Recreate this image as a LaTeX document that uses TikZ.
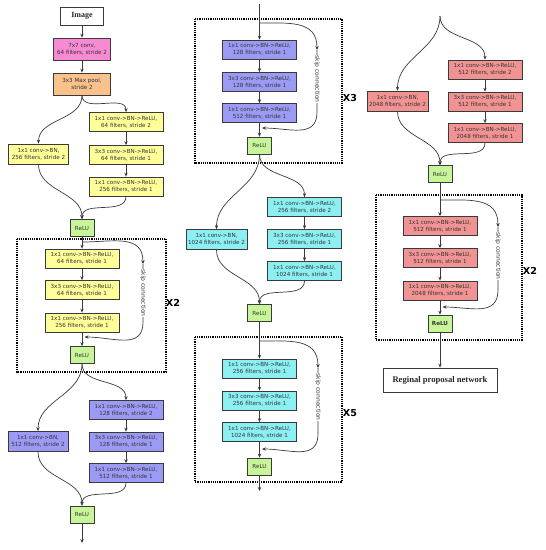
\documentclass[tikz,border=0pt]{standalone}
\usepackage{fontspec}
\setmainfont{DejaVu Sans}
\newfontfamily\serifb{Liberation Serif}
\usetikzlibrary{arrows.meta}
\definecolor{cpink}{HTML}{F78AD2}
\definecolor{corange}{HTML}{F9C18C}
\definecolor{cyel}{HTML}{FFFF99}
\definecolor{cpur}{HTML}{9B9BF5}
\definecolor{ccyan}{HTML}{8CF0F2}
\definecolor{cred}{HTML}{F29393}
\definecolor{cgreen}{HTML}{C8F59A}
\definecolor{cline}{HTML}{3A3A3A}
\begin{document}
\begin{tikzpicture}[x=1pt,y=-1pt,
 blk/.style={draw=cline, line width=0.7pt, inner sep=0pt, align=center,
   font=\fontsize{5.6}{6.8}\selectfont, minimum width=74pt, minimum height=19pt, text=black!80},
 sc/.style={blk, minimum width=60pt, minimum height=20pt},
 relu/.style={blk, fill=cgreen, minimum width=24pt, minimum height=17pt},
 arr/.style={draw=cline, line width=0.7pt, -{Stealth[length=4pt,width=3.4pt]}},
 rep/.style={draw=black, line width=1.2pt, densely dotted},
 skiplbl/.style={font=\fontsize{6}{6}\selectfont, rotate=-90, fill=white, inner sep=0.6pt, text=black!80},
 xlbl/.style={font=\bfseries\fontsize{9.6}{10}\selectfont},
 titl/.style={draw=cline, line width=0.7pt, fill=white, text=black!85, font=\serifb\bfseries\fontsize{8}{9}\selectfont},
 skp/.style={out=0, in=90, looseness=1.2},
 skq/.style={out=-90, in=0, looseness=1.2},
 ]
\useasboundingbox (0,0) rectangle (546,550);

% ---------------- left column ----------------
\node[titl, minimum width=43pt, minimum height=18pt] (img) at (82,16) {Image};
\node[blk, fill=cpink, minimum width=57pt, minimum height=22pt] (conv7) at (82,49) {7x7 conv,\\64 filters, stride 2};
\node[blk, fill=corange, minimum width=57pt, minimum height=22pt] (pool) at (82,84) {3x3 Max pool,\\stride 2};
\node[blk, fill=cyel] (a1) at (126,122) {1x1 conv->BN->ReLU,\\64 filters, stride 2};
\node[blk, fill=cyel] (a2) at (126,155) {3x3 conv->BN->ReLU,\\64 filters, stride 1};
\node[blk, fill=cyel] (a3) at (126,186.5) {1x1 conv->BN->ReLU,\\256 filters, stride 1};
\node[sc, fill=cyel] (as) at (38.5,154) {1x1 conv->BN,\\256 filters, stride 2};
\node[relu] (ar) at (82,228) {ReLU};

\draw[arr] (img) -- (conv7);
\draw[arr] (conv7) -- (pool);
\draw[arr] (pool.south) to[out=-90,in=90] (as.north);
\draw[arr] (pool.south) to[out=-90,in=90] (a1.north);
\draw[arr] (a1) -- (a2);
\draw[arr] (a2) -- (a3);
\draw[arr] (as.south) to[out=-90,in=90] (ar.north);
\draw[arr] (a3.south) to[out=-90,in=90] (ar.north);

\draw[rep] (17,239) rectangle (166,372);
\node[blk, fill=cyel] (b1) at (82,258.5) {1x1 conv->BN->ReLU,\\64 filters, stride 1};
\node[blk, fill=cyel] (b2) at (82,290) {3x3 conv->BN->ReLU,\\64 filters, stride 1};
\node[blk, fill=cyel] (b3) at (82,322.5) {1x1 conv->BN->ReLU,\\256 filters, stride 1};
\node[relu] (br) at (82,355) {ReLU};
\draw[arr] (ar) -- (b1);
\draw[arr] (b1) -- (b2);
\draw[arr] (b2) -- (b3);
\draw[arr] (b3) -- (br);
\coordinate (bs0) at (82,242);
\coordinate (bs1) at (143,264);
\coordinate (bs2) at (143,322);
\coordinate (bs3) at (84.5,337);
\draw[arr] (bs0) to[skp] (bs1);
\draw[arr] (bs1) -- (bs2) to[skq] (bs3);
\node[skiplbl] (bsl) at (143,293) {skip connection};
\node[xlbl] (x2a) at (173,303) {X2};

\node[blk, fill=cpur] (c1) at (126,410) {1x1 conv->BN->ReLU,\\128 filters, stride 2};
\node[blk, fill=cpur] (c2) at (126,441.5) {3x3 conv->BN->ReLU,\\128 filters, stride 1};
\node[blk, fill=cpur] (c3) at (126,473) {1x1 conv->BN->ReLU,\\512 filters, stride 1};
\node[sc, fill=cpur] (cs) at (38,441.5) {1x1 conv->BN,\\512 filters, stride 2};
\node[relu] (cr) at (82,514.5) {ReLU};
\coordinate (cout) at (82,543);
\draw[arr] (br.south) to[out=-90,in=90] (cs.north);
\draw[arr] (br.south) to[out=-90,in=90] (c1.north);
\draw[arr] (c1) -- (c2);
\draw[arr] (c2) -- (c3);
\draw[arr] (cs.south) to[out=-90,in=90] (cr.north);
\draw[arr] (c3.south) to[out=-90,in=90] (cr.north);
\draw[arr] (cr) -- (cout);

% ---------------- middle column ----------------
\coordinate (min) at (259.5,4);
\draw[rep] (195,19) rectangle (342,163);
\node[blk, fill=cpur] (d1) at (259.5,49.5) {1x1 conv->BN->ReLU,\\128 filters, stride 1};
\node[blk, fill=cpur] (d2) at (259.5,82) {3x3 conv->BN->ReLU,\\128 filters, stride 1};
\node[blk, fill=cpur] (d3) at (259.5,113) {1x1 conv->BN->ReLU,\\512 filters, stride 1};
\node[relu] (dr) at (259.5,145.5) {ReLU};
\draw[arr] (min) -- (d1);
\draw[arr] (d1) -- (d2);
\draw[arr] (d2) -- (d3);
\draw[arr] (d3) -- (dr);
\coordinate (ds0) at (259.5,23);
\coordinate (ds1) at (317,50);
\coordinate (ds2) at (317,112);
\coordinate (ds3) at (262,128);
\draw[arr] (ds0) to[skp] (ds1);
\draw[arr] (ds1) -- (ds2) to[skq] (ds3);
\node[skiplbl] (dsl) at (317,79) {skip connection};
\node[xlbl] (x3) at (350,98) {X3};

\node[blk, fill=ccyan] (e1) at (304.5,207) {1x1 conv->BN->ReLU,\\256 filters, stride 2};
\node[blk, fill=ccyan] (e2) at (304.5,239) {3x3 conv->BN->ReLU,\\256 filters, stride 1};
\node[blk, fill=ccyan] (e3) at (304.5,271) {1x1 conv->BN->ReLU,\\1024 filters, stride 1};
\node[sc, fill=ccyan, minimum width=61pt] (es) at (216.5,239.5) {1x1 conv->BN,\\1024 filters, stride 2};
\node[relu] (er) at (259.5,313) {ReLU};
\draw[arr] (dr.south) to[out=-90,in=90] (es.north);
\draw[arr] (dr.south) to[out=-90,in=90] (e1.north);
\draw[arr] (e1) -- (e2);
\draw[arr] (e2) -- (e3);
\draw[arr] (es.south) to[out=-90,in=90] (er.north);
\draw[arr] (e3.south) to[out=-90,in=90] (er.north);

\draw[rep] (195,337) rectangle (342,482);
\node[blk, fill=ccyan] (f1) at (259.5,368.5) {1x1 conv->BN->ReLU,\\256 filters, stride 1};
\node[blk, fill=ccyan] (f2) at (259.5,400.5) {3x3 conv->BN->ReLU,\\256 filters, stride 1};
\node[blk, fill=ccyan] (f3) at (259.5,432) {1x1 conv->BN->ReLU,\\1024 filters, stride 1};
\node[relu] (fr) at (259.5,466.5) {ReLU};
\coordinate (fout) at (259.5,491);
\draw[arr] (er) -- (f1);
\draw[arr] (f1) -- (f2);
\draw[arr] (f2) -- (f3);
\draw[arr] (f3) -- (fr);
\draw[arr] (fr) -- (fout);
\coordinate (fs0) at (259.5,341);
\coordinate (fs1) at (318,368);
\coordinate (fs2) at (318,434);
\coordinate (fs3) at (262,449);
\draw[arr] (fs0) to[skp] (fs1);
\draw[arr] (fs1) -- (fs2) to[skq] (fs3);
\node[skiplbl] (fsl) at (318,397) {skip connection};
\node[xlbl] (x5) at (350,413) {X5};

% ---------------- right column ----------------
\coordinate (gin) at (440,16);
\node[blk, fill=cred] (g1) at (485,69.5) {1x1 conv->BN->ReLU,\\512 filters, stride 2};
\node[blk, fill=cred] (g2) at (485,101.5) {3x3 conv->BN->ReLU,\\512 filters, stride 1};
\node[blk, fill=cred] (g3) at (485,133) {1x1 conv->BN->ReLU,\\2048 filters, stride 1};
\node[sc, fill=cred, minimum width=61pt] (gs) at (397.5,101) {1x1 conv->BN,\\2048 filters, stride 2};
\node[relu] (gr) at (440,174) {ReLU};
\draw[arr] (gin) to[out=-90,in=90] (gs.north);
\draw[arr] (gin) to[out=-90,in=90] (g1.north);
\draw[arr] (g1) -- (g2);
\draw[arr] (g2) -- (g3);
\draw[arr] (gs.south) to[out=-90,in=90] (gr.north);
\draw[arr] (g3.south) to[out=-90,in=90] (gr.north);

\draw[rep] (376,195) rectangle (522,340);
\node[blk, fill=cred] (h1) at (440,226) {1x1 conv->BN->ReLU,\\512 filters, stride 1};
\node[blk, fill=cred] (h2) at (440,258) {3x3 conv->BN->ReLU,\\512 filters, stride 1};
\node[blk, fill=cred] (h3) at (440,290.5) {1x1 conv->BN->ReLU,\\2048 filters, stride 1};
\node[relu, font=\bfseries\fontsize{5.6}{6.8}\selectfont] (hr) at (440,323.5) {ReLU};
\node[titl, minimum width=114pt, minimum height=24pt, font=\serifb\bfseries\fontsize{8.6}{9}\selectfont] (rpn) at (440,380) {Reginal proposal network};
\draw[arr] (gr) -- (h1);
\draw[arr] (h1) -- (h2);
\draw[arr] (h2) -- (h3);
\draw[arr] (h3) -- (hr);
\draw[arr] (hr) -- (rpn);
\coordinate (hs0) at (440,200);
\coordinate (hs1) at (498,227);
\coordinate (hs2) at (498,290);
\coordinate (hs3) at (442.5,307);
\draw[arr] (hs0) to[skp] (hs1);
\draw[arr] (hs1) -- (hs2) to[skq] (hs3);
\node[skiplbl] (hsl) at (498,256) {skip connection};
\node[xlbl] (x2b) at (530,271) {X2};
\end{tikzpicture}
\end{document}
